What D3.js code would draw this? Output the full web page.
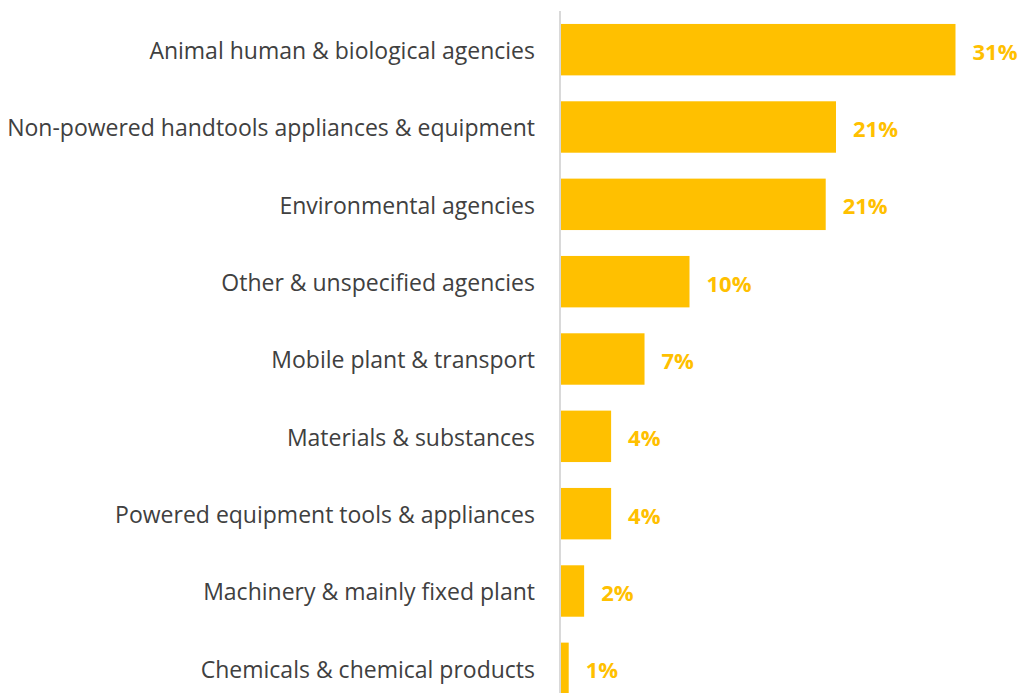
<!DOCTYPE html>
<html>
<head>
<meta charset="utf-8">
<script src="https://cdn.jsdelivr.net/npm/d3@7"></script>
<style>
  html, body { margin: 0; padding: 0; background: #ffffff; overflow: hidden; }
  svg { display: block; }
</style>
</head>
<body>
<svg id="chart" width="1022" height="693"></svg>
<script>
// Share of cases by agency of injury
const categories = [
  "Animal human & biological agencies",
  "Non-powered handtools appliances & equipment",
  "Environmental agencies",
  "Other & unspecified agencies",
  "Mobile plant & transport",
  "Materials & substances",
  "Powered equipment tools & appliances",
  "Machinery & mainly fixed plant",
  "Chemicals & chemical products"
];
const shares = [0.307, 0.214, 0.206, 0.100, 0.065, 0.039, 0.039, 0.018, 0.006];

const width = 1022, height = 693;
const axisX = 560;
const barColor = "#FFC000";
const labelColor = "#404040";
const font = "'Open Sans', 'Noto Sans', sans-serif";

const svg = d3.select("#chart");

const x = d3.scaleLinear().domain([0, 0.35]).range([axisX + 1, axisX + 1 + 0.35 * 1285]);
const y = d3.scaleBand()
  .domain(categories)
  .range([11, 707])
  .paddingInner(0.335)
  .paddingOuter(0.1675);

const data = categories.map((c, i) => ({ category: c, share: shares[i] }));
const fmt = d3.format(".0%");

// Bars
svg.append("g").selectAll("rect")
  .data(data)
  .join("rect")
  .attr("x", x(0))
  .attr("y", d => y(d.category))
  .attr("width", d => x(d.share) - x(0))
  .attr("height", y.bandwidth())
  .attr("fill", barColor);

// Category axis (line only, no ticks)
const yAxis = d3.axisLeft(y).tickSize(0).tickPadding(25);
const gy = svg.append("g")
  .attr("transform", `translate(${axisX},0)`)
  .call(yAxis);
gy.select(".domain")
  .attr("stroke", "#D9D9D9")
  .attr("stroke-width", 2)
  .attr("d", `M0,${y.range()[0]}V${y.range()[1]}`);
gy.selectAll(".tick text")
  .attr("fill", labelColor)
  .attr("dy", "0.4em")
  .style("font-family", font)
  .style("font-size", "23px");

// Value labels
svg.append("g").selectAll("text")
  .data(data)
  .join("text")
  .attr("x", d => x(d.share) + 17)
  .attr("y", d => y(d.category) + y.bandwidth() / 2)
  .attr("dy", "0.45em")
  .attr("fill", barColor)
  .style("font-family", font)
  .style("font-size", "22px")
  .style("font-weight", "bold")
  .text(d => fmt(d.share));
</script>
</body>
</html>
